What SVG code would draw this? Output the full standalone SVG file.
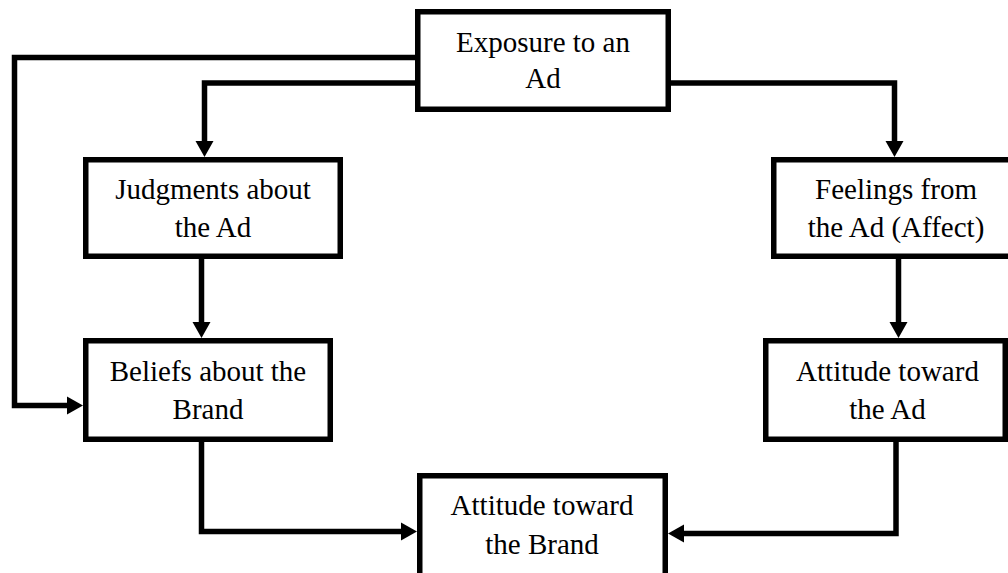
<svg xmlns="http://www.w3.org/2000/svg" width="1008" height="573" viewBox="0 0 1008 573">
<defs>
<style>
.box{fill:#fff;stroke:#000;stroke-width:5.5}
.lbl{font-family:"Liberation Serif","Times New Roman",serif;font-size:29px;fill:#000;text-anchor:middle}
.con{fill:none;stroke:#000;stroke-width:5.5;stroke-linejoin:miter;marker-end:url(#ah)}
</style>
<marker id="ah" markerUnits="userSpaceOnUse" markerWidth="17" markerHeight="19" refX="6" refY="9" orient="auto" overflow="visible">
<path d="M0,0 L16,9 L0,18 Z" fill="#000"/>
</marker>
</defs>
<rect width="1008" height="573" fill="#fff"/>
<g id="connectors">
<path class="con" d="M416,57.5 H14.5 V405.5 H73"/>
<path class="con" d="M416,83 H204.5 V147"/>
<path class="con" d="M670,83 H894.5 V147"/>
<path class="con" d="M201.5,258 V328"/>
<path class="con" d="M898.5,258 V328"/>
<path class="con" d="M201.5,441 V531.5 H407"/>
<path class="con" d="M896,441 V533.5 H678"/>
</g>
<g id="exposure">
<rect class="box" x="417.75" y="11.75" width="250.5" height="97.5"/>
<text class="lbl" x="543" y="52">Exposure to an</text>
<text class="lbl" x="543" y="88">Ad</text>
</g>
<g id="judgments">
<rect class="box" x="85.75" y="159.75" width="254.5" height="96.5"/>
<text class="lbl" x="213" y="199">Judgments about</text>
<text class="lbl" x="213" y="237">the Ad</text>
</g>
<g id="feelings">
<rect class="box" x="773.75" y="159.75" width="270" height="96.5"/>
<text class="lbl" x="896" y="199">Feelings from</text>
<text class="lbl" x="896" y="237">the Ad (Affect)</text>
</g>
<g id="beliefs">
<rect class="box" x="85.75" y="340.75" width="244.5" height="98.5"/>
<text class="lbl" x="208" y="381">Beliefs about the</text>
<text class="lbl" x="208" y="419">Brand</text>
</g>
<g id="attitude-ad">
<rect class="box" x="765.75" y="340.75" width="239.5" height="98.5"/>
<text class="lbl" x="887.5" y="381">Attitude toward</text>
<text class="lbl" x="887.5" y="419">the Ad</text>
</g>
<g id="attitude-brand">
<rect class="box" x="419.75" y="475.75" width="245.5" height="110"/>
<text class="lbl" x="542" y="515">Attitude toward</text>
<text class="lbl" x="542" y="554">the Brand</text>
</g>
</svg>
